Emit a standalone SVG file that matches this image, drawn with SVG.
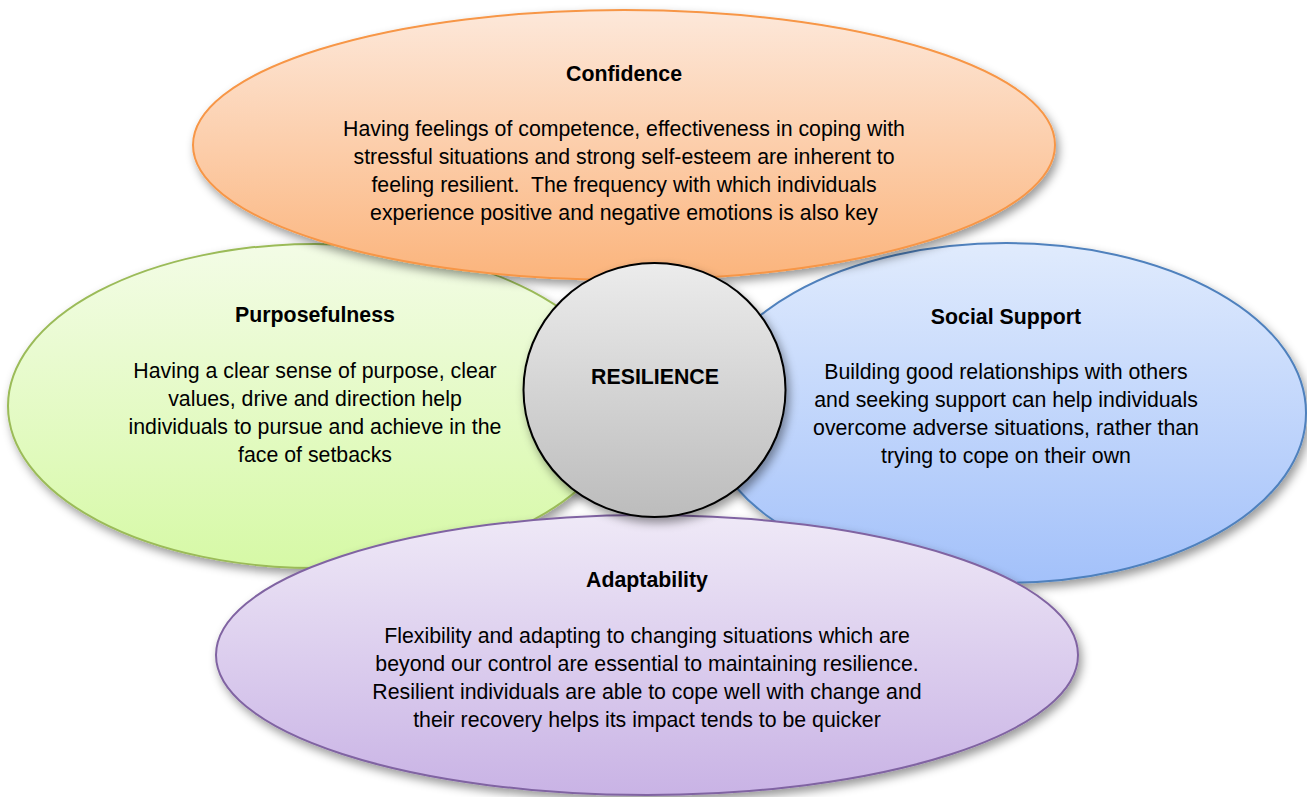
<svg xmlns="http://www.w3.org/2000/svg" width="1307" height="797" viewBox="0 0 1307 797">
<defs>
<linearGradient id="gO" x1="0" y1="0" x2="0" y2="1"><stop offset="0" stop-color="#fde8da"/><stop offset="1" stop-color="#fbb47c"/></linearGradient>
<linearGradient id="gG" x1="0" y1="0" x2="0" y2="1"><stop offset="0" stop-color="#f3fce6"/><stop offset="1" stop-color="#d6f9a6"/></linearGradient>
<linearGradient id="gB" x1="0" y1="0" x2="0" y2="1"><stop offset="0" stop-color="#e0ebfd"/><stop offset="1" stop-color="#a3c1fa"/></linearGradient>
<linearGradient id="gP" x1="0" y1="0" x2="0" y2="1"><stop offset="0" stop-color="#efe9f7"/><stop offset="1" stop-color="#c9b3e5"/></linearGradient>
<linearGradient id="gC" x1="0" y1="0" x2="0" y2="1"><stop offset="0" stop-color="#ececec"/><stop offset="1" stop-color="#bcbcbc"/></linearGradient>
<filter id="sh" x="-10%" y="-10%" width="125%" height="130%"><feDropShadow dx="3" dy="5" stdDeviation="5" flood-color="#000" flood-opacity="0.4"/></filter>
</defs>
<style>
text{font-family:"Liberation Sans",Arial,sans-serif;fill:#000;text-anchor:middle}
.t{font-size:21.3px;font-weight:bold}
.b{font-size:21.3px}
.shape{filter:url(#sh);stroke-width:2}
</style>
<rect width="1307" height="797" fill="#fff"/>
<g id="connectors"/>
<g id="purposefulness">
<ellipse class="shape" cx="315" cy="406" rx="307" ry="162" fill="url(#gG)" stroke="#9bbb59"/>
<text class="t" x="315" y="322">Purposefulness</text>
<text class="b" x="315" y="378">Having a clear sense of purpose, clear</text>
<text class="b" x="315" y="406">values, drive and direction help</text>
<text class="b" x="315" y="434">individuals to pursue and achieve in the</text>
<text class="b" x="315" y="462">face of setbacks</text>
</g>
<g id="social-support">
<ellipse class="shape" cx="1006" cy="413" rx="300" ry="170" fill="url(#gB)" stroke="#4f81bd"/>
<text class="t" x="1006" y="324">Social Support</text>
<text class="b" x="1006" y="379">Building good relationships with others</text>
<text class="b" x="1006" y="407">and seeking support can help individuals</text>
<text class="b" x="1006" y="435">overcome adverse situations, rather than</text>
<text class="b" x="1006" y="463">trying to cope on their own</text>
</g>
<g id="confidence">
<ellipse class="shape" cx="624" cy="145" rx="431" ry="135" fill="url(#gO)" stroke="#f79646"/>
<text class="t" x="624" y="81">Confidence</text>
<text class="b" x="624" y="136">Having feelings of competence, effectiveness in coping with</text>
<text class="b" x="624" y="164">stressful situations and strong self-esteem are inherent to</text>
<text class="b" x="624" y="192" xml:space="preserve">feeling resilient.  The frequency with which individuals</text>
<text class="b" x="624" y="220">experience positive and negative emotions is also key</text>
</g>
<g id="adaptability">
<ellipse class="shape" cx="647" cy="655" rx="431" ry="140" fill="url(#gP)" stroke="#8064a2"/>
<text class="t" x="647" y="587">Adaptability</text>
<text class="b" x="647" y="643">Flexibility and adapting to changing situations which are</text>
<text class="b" x="647" y="671">beyond our control are essential to maintaining resilience.</text>
<text class="b" x="647" y="699">Resilient individuals are able to cope well with change and</text>
<text class="b" x="647" y="727">their recovery helps its impact tends to be quicker</text>
</g>
<g id="resilience">
<ellipse class="shape" cx="654.5" cy="390" rx="131" ry="127" fill="url(#gC)" stroke="#000"/>
<text class="t" x="655" y="384">RESILIENCE</text>
</g>
</svg>
